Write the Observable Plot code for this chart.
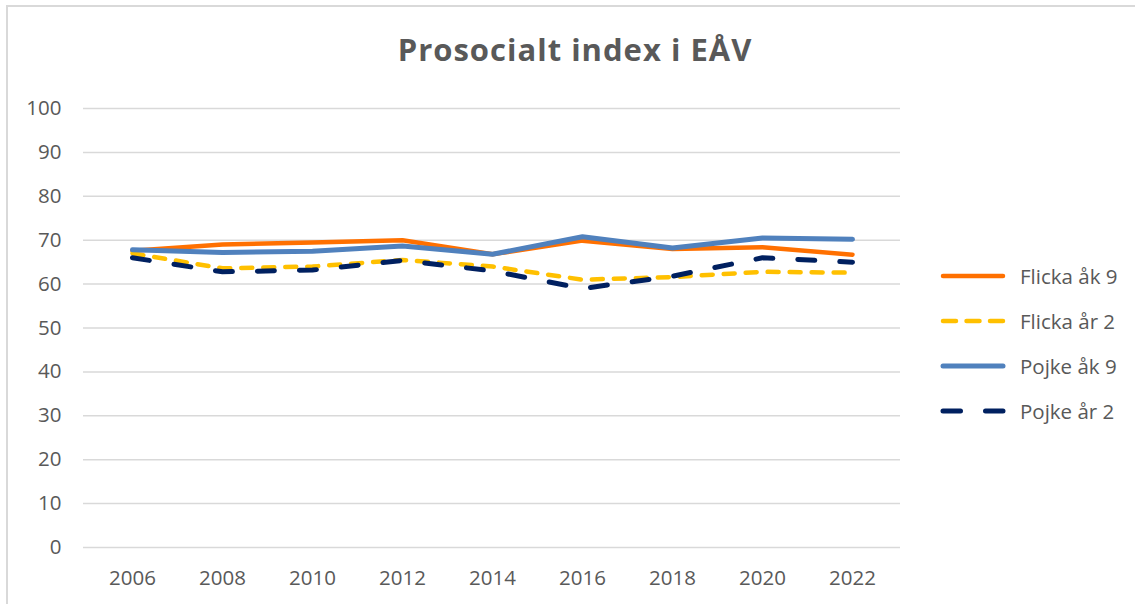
<!DOCTYPE html>
<html>
<head>
<meta charset="utf-8">
<script src="https://cdn.jsdelivr.net/npm/d3@7"></script>
<script src="https://cdn.jsdelivr.net/npm/@observablehq/plot@0.6"></script>
<style>
  html, body { margin: 0; padding: 0; background: #fff; }
  #wrap { position: relative; width: 1135px; height: 604px; overflow: hidden; font-family: "Open Sans", sans-serif; }
  #box { position: absolute; left: 6px; top: 5px; width: 1135px; height: 620px; border-top: 2px solid #d9d9d9; border-left: 2px solid #d9d9d9; box-sizing: border-box; }
  #title { position: absolute; left: 0; width: 1150px; top: 28px; text-align: center; font-family: "Open Sans", sans-serif; font-weight: 700; font-size: 31px; color: #595959; letter-spacing: 1px; }
  #chart { position: absolute; left: 0; top: 0; }
  #legend { position: absolute; left: 938px; top: 253px; }
  .item { display: flex; align-items: center; height: 45px; font-size: 20.5px; color: #595959; }
  .item svg { margin-right: 6px; }
</style>
</head>
<body>
<div id="wrap">
  <div id="box"></div>
  <div id="chart"></div>
  <div id="title">Prosocialt index i EÅV</div>
  <div id="legend"></div>
</div>
<script>
const years = [2006, 2008, 2010, 2012, 2014, 2016, 2018, 2020, 2022];
const seriesNames = ["Flicka åk 9", "Flicka år 2", "Pojke åk 9", "Pojke år 2"];
const flickaAk9 = [67.6, 69.0, 69.5, 70.0, 66.8, 69.9, 68.0, 68.4, 66.7];
const flickaAr2 = [67.0, 63.6, 64.0, 65.5, 64.0, 61.0, 61.6, 62.8, 62.6];
const pojkeAk9 = [67.8, 67.2, 67.5, 68.7, 66.8, 70.8, 68.2, 70.5, 70.2];
const pojkeAr2 = [66.0, 62.8, 63.2, 65.4, 63.0, 59.0, 61.8, 66.0, 65.0];
const yTicks = [0, 10, 20, 30, 40, 50, 60, 70, 80, 90, 100];

const styles = [
  {color: "#FF7000", dash: null, legendDash: null, width: 4.5},
  {color: "#FFC000", dash: "11,11", legendDash: "13,10.5", width: 4.5},
  {color: "#5081BD", dash: null, legendDash: null, width: 5},
  {color: "#002060", dash: "17,25", legendDash: "17.5,25", width: 5}
];
const allValues = [flickaAk9, flickaAr2, pojkeAk9, pojkeAr2];

const data = [];
seriesNames.forEach((s, i) => years.forEach((y, j) => data.push({series: s, year: String(y), value: allValues[i][j]})));

const lineMarks = seriesNames.map((s, i) => Plot.line(data.filter(d => d.series === s), {
  x: "year", y: "value",
  stroke: styles[i].color, strokeWidth: styles[i].width,
  strokeDasharray: styles[i].dash, strokeLinecap: "round", strokeLinejoin: "round"
}));

const plot = Plot.plot({
  width: 1135, height: 604,
  marginLeft: 83, marginRight: 235, marginTop: 108, marginBottom: 57,
  style: {fontFamily: "Open Sans, sans-serif", fontSize: "20.5px", color: "#595959", background: "transparent"},
  x: {type: "point", domain: years.map(String), padding: 0.5, label: null},
  y: {domain: [0, 100], label: null},
  marks: [
    Plot.ruleY(yTicks, {stroke: "#d9d9d9", strokeWidth: 1.5}),
    Plot.axisY(yTicks, {tickSize: 0, tickPadding: 22, fill: "#595959", fontSize: 20.5}),
    Plot.axisX({tickSize: 0, tickPadding: 23, fill: "#595959", fontSize: 20.5}),
    ...lineMarks
  ]
});
document.getElementById("chart").appendChild(plot);

const legend = document.getElementById("legend");
seriesNames.forEach((s, i) => {
  const item = document.createElement("div");
  item.className = "item";
  const st = styles[i];
  item.innerHTML = `<svg width="76" height="10"><line x1="5" y1="5" x2="65" y2="5" stroke="${st.color}" stroke-width="${st.width}" stroke-linecap="round" ${st.legendDash ? `stroke-dasharray="${st.legendDash}"` : ""}/></svg><span>${s}</span>`;
  legend.appendChild(item);
});
</script>
</body>
</html>
